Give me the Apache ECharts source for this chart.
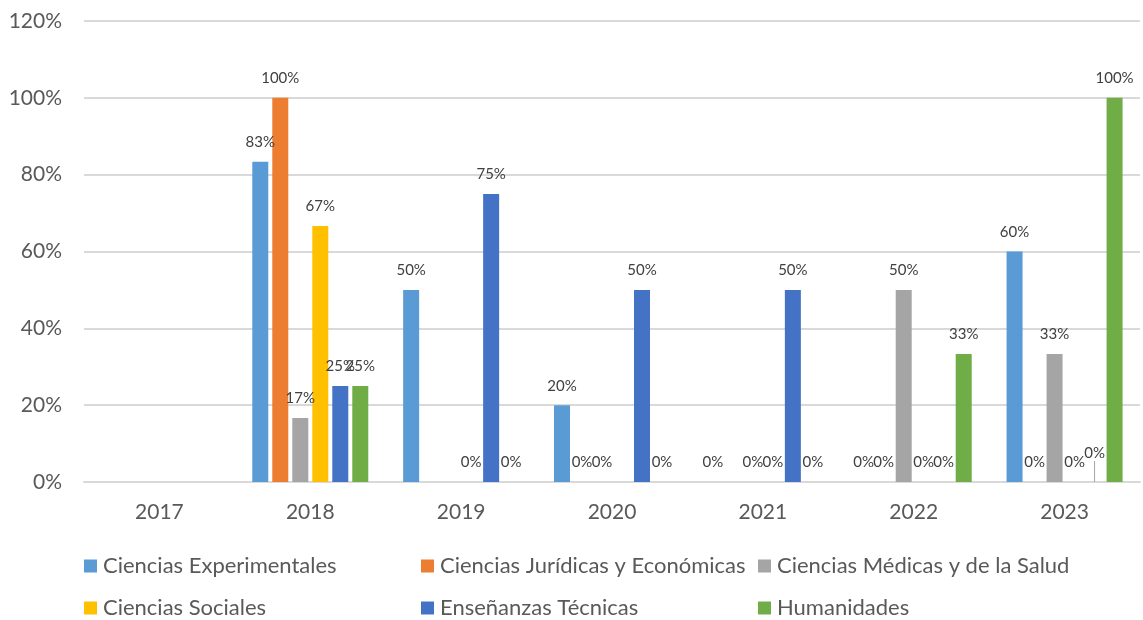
<!DOCTYPE html>
<html>
<head>
<meta charset="utf-8">
<script src="https://cdn.jsdelivr.net/npm/echarts@6/dist/echarts.min.js"></script>
<style>
  html, body { margin: 0; padding: 0; background: #fff; }
  #chart { width: 1143px; height: 620px; }
</style>
</head>
<body>
<div id="chart"></div>
<script>
// categorías (años)
var years = ['2017', '2018', '2019', '2020', '2021', '2022', '2023'];
// null = sin dato (sin barra ni etiqueta)
var experimentales = [null, 83.33, 50, 20, 0, 0, 60];
var juridicas      = [null, 100, null, 0, null, 0, 0];
var medicas        = [null, 16.67, null, 0, 0, 50, 33.33];
var sociales       = [null, 66.67, 0, null, 0, 0, 0];
var tecnicas       = [null, 25, 75, 50, 50, 0, 0];
var humanidades    = [null, 25, 0, 0, 0, 33.33, 100];
var yTicks = [0, 20, 40, 60, 80, 100, 120];

var seriesNames = [
    'Ciencias Experimentales',
    'Ciencias Jurídicas y Económicas',
    'Ciencias Médicas y de la Salud',
    'Ciencias Sociales',
    'Enseñanzas Técnicas',
    'Humanidades'
];
var seriesData = [experimentales, juridicas, medicas, sociales, tecnicas, humanidades];
var colors = ['#5b9bd5', '#ed7d31', '#a5a5a5', '#ffc000', '#4472c4', '#70ad47'];

var font = 'Lato';
var textColor = '#595959';

var chart = echarts.init(document.getElementById('chart'));

var series = seriesData.map(function (d, i) {
    var data = d.map(function (v, j) {
        // la etiqueta 0% de Enseñanzas Técnicas en 2023 va desplazada con línea guía
        if (i === 4 && j === 6) {
            return {
                value: v,
                labelLine: { show: true, lineStyle: { color: '#a5a5a5', width: 1 } }
            };
        }
        return v;
    });
    var s = {
        name: seriesNames[i],
        type: 'bar',
        data: data,
        barWidth: 16,
        barGap: '25%',
        itemStyle: { color: colors[i] },
        label: {
            show: true,
            position: 'top',
            distance: 12,
            color: '#404040',
            fontFamily: font,
            fontSize: 15,
            formatter: function (p) {
                return Math.round(p.value) + '%';
            }
        }
    };
    if (i === 4) {
        s.labelLayout = function (p) {
            if (p.dataIndex === 6) {
                return { dy: -9 };
            }
            return {};
        };
    }
    return s;
});

// leyenda en 3 columnas x 2 filas
var legendCols = [84, 421, 758];
var legendRows = [555, 597];
var legends = seriesNames.map(function (name, i) {
    return {
        data: [name],
        left: legendCols[i % 3],
        top: legendRows[Math.floor(i / 3)],
        padding: 0,
        itemWidth: 13,
        itemHeight: 13,
        itemGap: 0,
        icon: 'rect',
        textStyle: { color: textColor, fontFamily: font, fontSize: 22, lineHeight: 22, padding: [0, 0, 0, 1] }
    };
});

var option = {
    backgroundColor: '#fff',
    animation: false,
    grid: { left: 84, right: 3, top: 21, bottom: 138 },
    legend: legends,
    xAxis: {
        type: 'category',
        data: years,
        axisLine: { lineStyle: { color: '#d9d9d9', width: 2 } },
        axisTick: { show: false },
        axisLabel: { color: textColor, fontFamily: font, fontSize: 21, margin: 20 }
    },
    yAxis: {
        type: 'value',
        min: yTicks[0],
        max: yTicks[yTicks.length - 1],
        interval: 20,
        axisLine: { show: false },
        axisTick: { show: false },
        splitLine: { lineStyle: { color: '#d9d9d9', width: 2 } },
        axisLabel: {
            color: textColor, fontFamily: font, fontSize: 21, margin: 22,
            formatter: '{value}%'
        }
    },
    series: series
};

chart.setOption(option);
</script>
</body>
</html>
